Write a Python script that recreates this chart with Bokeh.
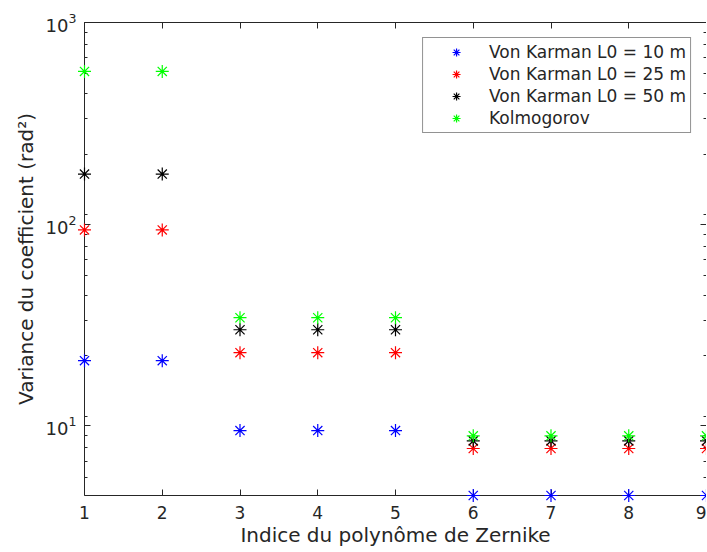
from bokeh.plotting import figure
from bokeh.models import (ColumnDataSource, Legend, LegendItem, FixedTicker,
                          LinearAxis, LogTicker, Range1d,
                          CustomJSTickFormatter)
from bokeh.embed import file_html
from bokeh.resources import INLINE

# Data
zernike_index = [1, 2, 3, 4, 5, 6, 7, 8, 9]
vk_l0_10 = [21, 21, 9.45, 9.45, 9.45, 4.5, 4.5, 4.5, 4.5]
vk_l0_25 = [93.5, 93.5, 23, 23, 23, 7.7, 7.7, 7.7, 7.7]
vk_l0_50 = [177, 177, 29.9, 29.9, 29.9, 8.4, 8.4, 8.4, 8.4]
kolmogorov = [572, 572, 34.3, 34.3, 34.3, 8.9, 8.9, 8.9, 8.9]

series_names = ["Von Karman L0 = 10 m", "Von Karman L0 = 25 m",
                "Von Karman L0 = 50 m", "Kolmogorov"]
series_values = [vk_l0_10, vk_l0_25, vk_l0_50, kolmogorov]
series_colors = ["#0000ff", "#ff0000", "#000000", "#00ff00"]
x_ticks = [1, 2, 3, 4, 5, 6, 7, 8, 9]

TXT = "#262626"
FONT = "DejaVu Sans"

p = figure(width=706, height=550, y_axis_type="log",
           x_range=Range1d(1, 9), y_range=Range1d(4.5, 1000),
           output_backend="svg", toolbar_location=None,
           min_border_left=84, min_border_right=0,
           min_border_top=22, min_border_bottom=55)
p.xgrid.visible = False
p.ygrid.visible = False
p.outline_line_color = None
p.background_fill_color = "white"

items = []
for name, vals, col in zip(series_names, series_values, series_colors):
    src = ColumnDataSource(dict(x=zernike_index, y=vals))
    r = p.scatter("x", "y", source=src, marker="asterisk", size=13,
                  line_color=col, line_width=1.2, level="overlay")
    items.append(LegendItem(label=name, renderers=[r]))

def style_axis(ax):
    ax.axis_line_color = TXT
    ax.major_tick_line_color = TXT
    ax.minor_tick_line_color = TXT
    ax.major_tick_in = 6
    ax.major_tick_out = 0
    ax.minor_tick_in = 3
    ax.minor_tick_out = 0
    ax.major_label_text_color = TXT
    ax.major_label_text_font = FONT
    ax.major_label_text_font_size = "17px"
    ax.axis_label_text_color = TXT
    ax.axis_label_text_font = FONT
    ax.axis_label_text_font_size = "20px"
    ax.axis_label_text_font_style = "normal"

xa = p.xaxis[0]
xa.ticker = FixedTicker(ticks=x_ticks, minor_ticks=[])
style_axis(xa)
xa.axis_label = "Indice du polynôme de Zernike"
xa.major_label_standoff = 10
xa.axis_label_standoff = 1

ya = p.yaxis[0]
ya.ticker = LogTicker(num_minor_ticks=9)
style_axis(ya)
ya.major_label_text_font_size = "18px"
ya.axis_label = "Variance du coefficient (rad²)"
ya.major_label_standoff = 8
ya.axis_label_standoff = 5

blank = CustomJSTickFormatter(code="return ''")

top = LinearAxis(ticker=FixedTicker(ticks=x_ticks, minor_ticks=[]),
                 formatter=blank)
style_axis(top)
top.major_label_standoff = 0
p.add_layout(top, "above")

right = LinearAxis(ticker=LogTicker(num_minor_ticks=9), formatter=blank)
style_axis(right)
right.major_label_standoff = 0
p.add_layout(right, "right")

legend = Legend(items=items, location="top_right", margin=15,
                padding=4, spacing=2, label_height=20, glyph_height=20,
                glyph_width=58, label_standoff=4,
                label_text_font=FONT, label_text_font_size="17px",
                label_text_color=TXT, border_line_color=TXT,
                border_line_width=1, background_fill_alpha=1)
p.add_layout(legend, "center")

open("out.html", "w").write(file_html(p, INLINE))
